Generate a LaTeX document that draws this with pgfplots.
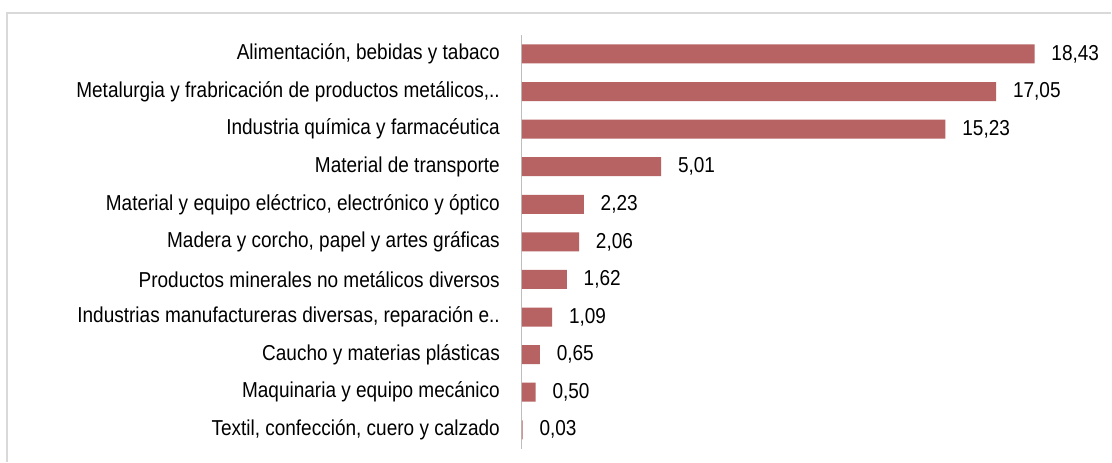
\documentclass[border=0pt]{standalone}
\usepackage{fontspec}
\setmainfont{Liberation Sans}[FakeStretch=0.88]
\usepackage{pgfplots}
\pgfplotsset{compat=1.18}
\definecolor{barred}{RGB}{183,99,99}
\definecolor{framegray}{RGB}{217,217,217}
\definecolor{axisgray}{RGB}{190,190,190}
\newcommand{\lblfont}{\fontsize{16.2}{19}\selectfont}
\begin{document}
\begin{tikzpicture}
% canvas 1112x462 px at 0.75pt per px
\fill[white] (0pt,0pt) rectangle (834pt,-346.5pt);
\draw[framegray, line width=0.8pt] (5.25pt,-346.5pt) -- (5.25pt,-9.75pt) -- (834pt,-9.75pt);
\begin{axis}[
    at={(391.5pt,-26.4pt)}, anchor=north west,
    scale only axis,
    width=384.75pt, height=310.2pt,
    xmin=0, xmax=18.43, ymin=-0.5, ymax=10.5,
    y dir=reverse,
    xbar, bar width=14.25pt,
    axis x line=none,
    axis y line*=left,
    y axis line style={axisgray, line width=0.8pt},
    ytick={0,...,10},
    yticklabels={
      {Alimentación, bebidas y tabaco},
      {Metalurgia y frabricación de productos metálicos,..},
      {Industria química y farmacéutica},
      {Material de transporte},
      {Material y equipo eléctrico, electrónico y óptico},
      {Madera y corcho, papel y artes gráficas},
      {Productos minerales no metálicos diversos},
      {Industrias manufactureras diversas, reparación e..},
      {Caucho y materias plásticas},
      {Maquinaria y equipo mecánico},
      {Textil, confección, cuero y calzado}},
    ytick style={draw=none},
    yticklabel style={font=\lblfont, inner sep=0pt, anchor=east, xshift=-12pt},
    clip=false,
    nodes near coords,
    nodes near coords align=horizontal,
    every node near coord/.append style={font=\lblfont, anchor=west, inner sep=0pt, xshift=12.5pt, text=black},
    /pgf/number format/.cd, fixed, fixed zerofill, precision=2, use comma, assume math mode=true,
  ]
\addplot[fill=barred, draw=none] coordinates {
  (18.43,0) (17.05,1) (15.23,2) (5.01,3) (2.23,4) (2.06,5)
  (1.62,6) (1.09,7) (0.65,8) (0.50,9) (0.03,10)};
\end{axis}
\end{tikzpicture}
\end{document}
